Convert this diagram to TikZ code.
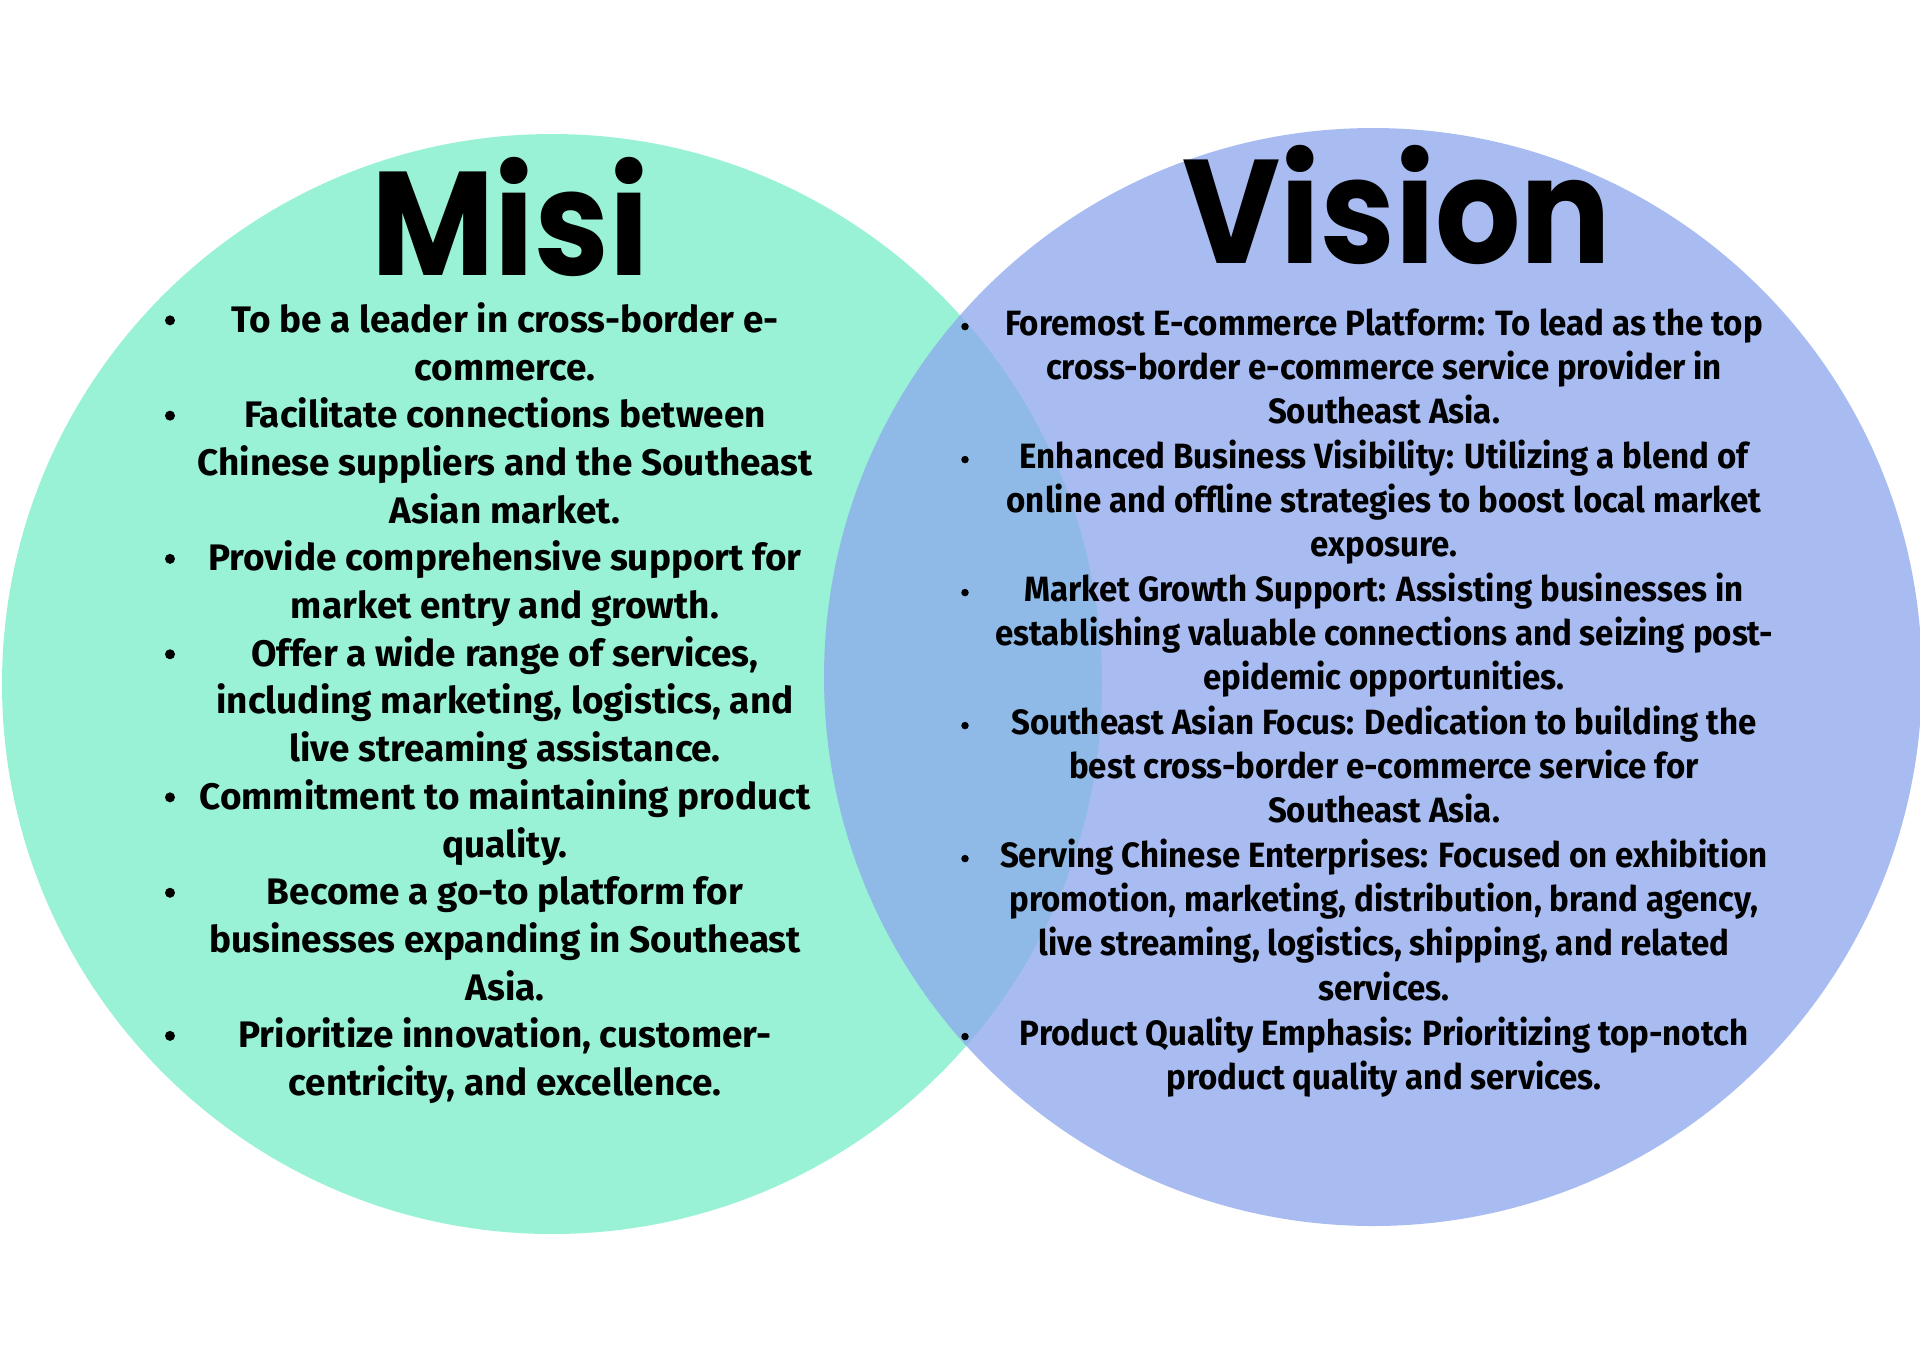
\documentclass[tikz,border=0pt]{standalone}
\usepackage{fontspec}
\setmainfont{Fira Sans}
\newfontfamily\headfont{Poppins}[FakeStretch=0.91]
\newfontfamily\narrowfont{Fira Sans}[FakeStretch=0.94]
\definecolor{misigreen}{RGB}{153,242,214}
\definecolor{visionblue}{RGB}{140,166,237}

\begin{document}
\begin{tikzpicture}[x=0.1mm, y=-0.1mm,
  head/.style={font=\headfont\bfseries\fontsize{42}{42}\selectfont, inner sep=0pt, text depth=0pt, anchor=base},
  misiitem/.style={font=\bfseries\fontsize{10.5}{13.57}\selectfont, align=center, inner sep=0pt, anchor=base},
  visitem/.style={font=\narrowfont\bfseries\fontsize{10}{12.6}\selectfont, align=center, inner sep=0pt, anchor=base},
  misidot/.style={circle, fill=black, inner sep=0pt, minimum size=1mm, yshift=3.4pt},
  visdot/.style={circle, fill=black, inner sep=0pt, minimum size=0.75mm, yshift=2.4pt}]
  \useasboundingbox (0,0) rectangle (1920,1357);
  \fill[misigreen] (552,684) circle[radius=55mm];
  \fill[visionblue, fill opacity=0.75] (1373,677) circle[radius=54.9mm];

  \node[head] (misi) at (510,275) {Misi};
  \node[head] (vision) at (1397,263) {Vision};

  \node[misiitem] (m1) at (505,380) {To be a leader in cross-border e-\\commerce.};
  \node[misiitem] (m2) at (505,523) {Facilitate connections between\\Chinese suppliers and the Southeast\\Asian market.};
  \node[misiitem] (m3) at (505,618.5) {Provide comprehensive support for\\market entry and growth.};
  \node[misiitem] (m4) at (505,761.5) {Offer a wide range of services,\\including marketing, logistics, and\\live streaming assistance.};
  \node[misiitem] (m5) at (505,857) {Commitment to maintaining product\\quality.};
  \node[misiitem] (m6) at (505,1000) {Become a go-to platform for\\businesses expanding in Southeast\\Asia.};
  \node[misiitem] (m7) at (505,1095.5) {Prioritize innovation, customer-\\centricity, and excellence.};
  \foreach \y [count=\i] in {332.3,427.6,570.8,666.2,809.3,904.7,1047.8}
    \node[misidot] (m\i dot) at (170,\y) {};

  \node[visitem] (v1) at (1384,423.7) {Foremost E-commerce Platform: To lead as the top\\cross-border e-commerce service provider in\\Southeast Asia.};
  \node[visitem] (v2) at (1384,556.7) {Enhanced Business Visibility: Utilizing a blend of\\online and offline strategies to boost local market\\exposure.};
  \node[visitem] (v3) at (1384,689.7) {Market Growth Support: Assisting businesses in\\establishing valuable connections and seizing post-\\epidemic opportunities.};
  \node[visitem] (v4) at (1384,822.7) {Southeast Asian Focus: Dedication to building the\\best cross-border e-commerce service for\\Southeast Asia.};
  \node[visitem] (v5) at (1384,1000) {Serving Chinese Enterprises: Focused on exhibition\\promotion, marketing, distribution, brand agency,\\live streaming, logistics, shipping, and related\\services.};
  \node[visitem] (v6) at (1384,1089.3) {Product Quality Emphasis: Prioritizing top-notch\\product quality and services.};
  \foreach \y [count=\i] in {335,468,601,734,867,1045}
    \node[visdot] (v\i dot) at (965,\y) {};
\end{tikzpicture}
\end{document}
